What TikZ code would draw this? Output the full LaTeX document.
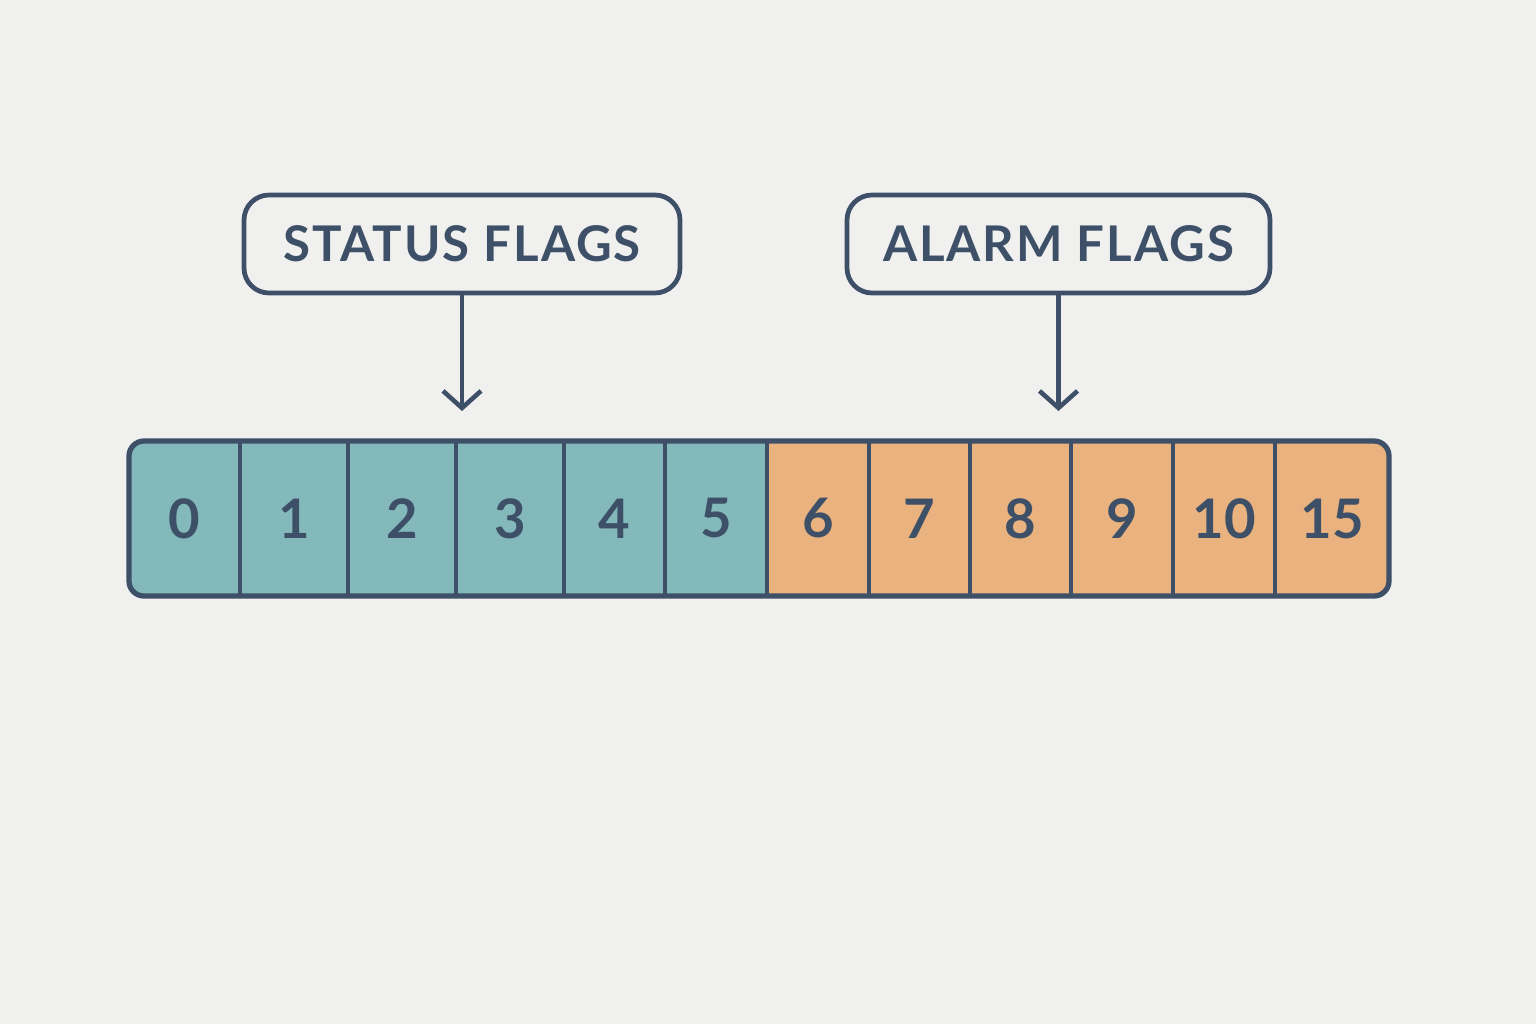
\documentclass[tikz,border=0pt]{standalone}
\usepackage{fontspec}
\setmainfont{Lato}
\usepackage{tikz}
\usetikzlibrary{arrows.meta, positioning}

\definecolor{bgcol}{HTML}{F0F0EF}
\definecolor{ink}{HTML}{3D5068}
\definecolor{tealcell}{HTML}{84B9BB}
\definecolor{orangecell}{HTML}{E9B27E}

\begin{document}
\begin{tikzpicture}[
    flag/.style={draw=ink, line width=1.35pt, rounded corners=0.25cm, fill=bgcol,
                 minimum height=0.98cm, text=ink, inner sep=0pt,
                 font=\fontsize{14}{16}\selectfont\bfseries\addfontfeatures{LetterSpace=4}},
    cell/.style={draw=ink, line width=1.3pt, minimum height=1.55cm, inner sep=0pt,
                 text=ink, font=\fontsize{15.5}{18}\selectfont\bfseries},
    arr/.style={ink, line width=1.3pt, -{Straight Barb[length=0.17cm, width=0.38cm]}}
]
    \fill[bgcol] (0,0) rectangle (15.36,-10.24);
    \useasboundingbox (0,0) rectangle (15.36,-10.24);

    % register cells
    \begin{scope}
        \clip[rounded corners=0.15cm] (1.29,-4.41) rectangle (13.89,-5.96);
        \foreach \l/\r/\n/\c in {129/240/0/tealcell, 240/348/1/tealcell, 348/456/2/tealcell,
                                 456/564/3/tealcell, 564/665/4/tealcell, 665/767/5/tealcell,
                                 767/869/6/orangecell, 869/970/7/orangecell, 970/1071/8/orangecell,
                                 1071/1173/9/orangecell, 1173/1275/10/orangecell, 1275/1389/15/orangecell}
            \node[cell, fill=\c, minimum width={(\r-\l)*0.01cm}] (b\n) at ({(\l+\r)/200}, -5.185) {\n};
    \end{scope}
    \draw[ink, line width=1.5pt, rounded corners=0.15cm] (1.29,-4.41) rectangle (13.89,-5.96);

    % field labels
    \node[flag, minimum width=4.36cm] (status) at (4.62,-2.44) {STATUS FLAGS};
    \node[flag, minimum width=4.23cm] (alarm) at (10.585,-2.44) {ALARM FLAGS};

    \coordinate (statustip) at (4.62,-4.11);
    \coordinate (alarmtip) at (10.585,-4.11);
    \draw[arr] (status.south) -- (statustip);
    \draw[arr] (alarm.south) -- (alarmtip);
\end{tikzpicture}
\end{document}
